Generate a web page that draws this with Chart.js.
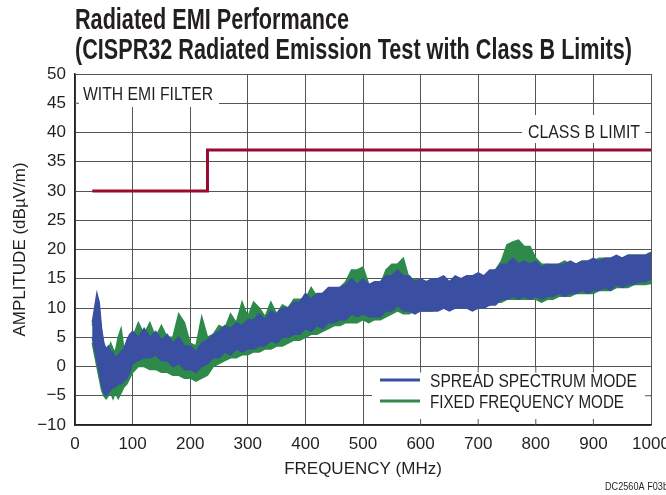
<!DOCTYPE html>
<html>
<head>
<meta charset="utf-8">
<script src="https://cdn.jsdelivr.net/npm/chart.js@4.4.1/dist/chart.umd.min.js"></script>
<style>
  html, body { margin: 0; padding: 0; background: #fff; }
</style>
</head>
<body>
<canvas id="emi" width="666" height="495"></canvas>
<script>
const FONT = "'Liberation Sans', Arial, sans-serif";
const INK = "#231f20";
const BLUE = "#3a4fa2";
const GREEN = "#2e8a4a";

// frequency points (MHz)
const freqs = [
  30, 34, 38, 42, 46, 50, 54, 58, 62, 66, 70, 75, 80, 85, 90, 95, 100,
  110, 120, 130, 140, 150, 160, 170, 180, 190, 200,
  210, 220, 230, 240, 250, 260, 270, 280, 290, 300,
  310, 320, 330, 340, 350, 360, 370, 380, 390, 400,
  410, 420, 430, 440, 450, 460, 470, 480, 490, 500,
  510, 520, 530, 540, 550, 560, 570, 580, 590, 600,
  610, 620, 630, 640, 650, 660, 670, 680, 690, 700,
  710, 720, 730, 740, 750, 760, 770, 780, 790, 800,
  810, 820, 830, 840, 850, 860, 870, 880, 890, 900,
  910, 920, 930, 940, 950, 960, 970, 980, 990, 1000
];

// spread spectrum mode, upper / lower edge of the trace (dBuV/m)
const spreadHi = [
  7.5, 10, 12.5, 11, 6.5, 4, 3, 3.5, 2.5, 2.5, 1.5, 2, 2.5, 3, 4.5, 5.5, 6,
  5, 6.5, 5, 6, 4.5, 5.5, 4, 5, 3.5, 3.5,
  2.5, 4, 4.5, 5.5, 6, 7, 6.5, 7.5, 7, 8,
  8, 9, 8, 9.5, 9, 10, 10, 11, 11, 12.5,
  11.5, 12.5, 12.5, 13.5, 13.5, 13.5, 14, 15, 14, 15,
  14, 14.5, 14.5, 15.5, 15.5, 16.5, 15.5, 15.5, 14.5, 15,
  14.5, 15, 15, 15.5, 14.5, 15.5, 15, 15.5, 15.5, 16,
  15.5, 16.5, 16.5, 17.5, 17.5, 18.5, 17.5, 18, 17.5, 18,
  17, 17.5, 17.5, 17.5, 17.5, 18, 17.5, 18, 18, 18.5,
  18, 18.5, 18.5, 19, 18.5, 19, 19, 19, 19, 19.5
];
const spreadLo = [
  5, 3, 1, -1, -3, -4.5, -5, -4.5, -4, -3.5, -3.5, -3, -3, -2.5, -2, -1, 0.5,
  1, 1.5, 1.5, 2, 1, 1, 0, 0.5, -0.5, -0.5,
  -1, 0, 0.5, 1.5, 1.5, 2.5, 2, 3, 2.5, 3,
  3, 3.5, 3.5, 4.5, 4, 5, 5, 5.5, 5.5, 6.5,
  6, 7, 6.5, 7.5, 7.5, 8, 8, 9, 8.5, 9,
  8.5, 8.5, 8.5, 9.5, 9.5, 10.5, 9.5, 9.5, 9, 9.5,
  9.5, 9.5, 9.5, 10, 9.5, 10, 10, 10, 9.5, 10,
  10, 10.5, 10.5, 11.5, 11.5, 12, 11.5, 12, 11.5, 12,
  11.5, 12, 12, 12.5, 12, 12.5, 12.5, 13, 12.5, 13,
  13, 13.5, 13, 14, 13.5, 14, 14, 14.5, 14.5, 15
];

// fixed frequency mode, upper / lower edge of the trace (dBuV/m)
const fixedHi = [
  7, 9, 11, 10, 6, 3, 2, 3, 4, 3, 2.5, 5, 6.5, 3, 4, 5, 5,
  7.5, 5.5, 7.5, 5, 7, 5, 5, 9, 7.5, 4,
  3.5, 8.5, 5, 5.5, 7, 6.5, 9, 7.5, 11, 8.5,
  11, 10, 8.5, 11, 9, 10.5, 10, 11.5, 11.5, 11.5,
  13.5, 12, 12.5, 12.5, 13, 13.5, 14.5, 16.5, 16.5, 17,
  14, 13.5, 14, 16.5, 17.5, 17.5, 18.5, 15, 15, 14.5,
  14.5, 14, 14.5, 14.5, 14.5, 15, 15, 15, 15.5, 15.5,
  15.5, 16, 16.5, 18, 20.8, 21.3, 21.6, 20.5, 20.5, 18.5,
  17.5, 17.5, 17, 17.5, 18, 17.5, 17.5, 18, 18, 18,
  18.5, 18.5, 18.5, 18.5, 18.5, 19, 19, 19, 19, 19.5
];
const fixedLo = [
  4, 2, 0, -2, -4, -5, -5.5, -5, -4.5, -5.5, -4.5, -5.5, -4.5, -3.5, -3, -2, -1,
  0, 0, -0.5, -0.5, -1, -1, -1.5, -1.5, -2, -2,
  -2.5, -2, -1.5, 0, 0.5, 1, 1.5, 1.5, 2, 2,
  2.5, 2.5, 3, 3, 3.5, 3.5, 4, 4.5, 4.5, 5,
  5.5, 5.5, 6, 6.5, 7, 7, 7.5, 7.5, 7.5, 8,
  7.5, 8, 8, 8.5, 9, 9.5, 9, 9, 9.5, 9.5,
  9.5, 9.5, 10, 10, 10, 10, 10, 10.5, 10.5, 10.5,
  10.5, 10.5, 11, 11, 11.5, 11.5, 11.5, 11.5, 11.5, 11.5,
  11, 11.5, 11.5, 12, 12, 12, 12.5, 12.5, 12.5, 12.5,
  13, 13, 13, 13.5, 13.5, 13.5, 14, 14, 14, 14.2
];

// CISPR32 class B limit
const limitFreqs = [30, 230, 230, 1000];
const limitLevels = [30, 30, 37, 37];

const xRange = [0, 1000, 100];
const yRange = [-10, 50, 5];

const pts = vals => freqs.map((f, i) => ({ x: f, y: vals[i] }));

function line(ctx, x1, y1, x2, y2) {
  ctx.beginPath();
  ctx.moveTo(x1, y1);
  ctx.lineTo(x2, y2);
  ctx.stroke();
}

// condensed look: squeeze text to the width it has in the original
function fitText(ctx, text, x, y, width) {
  const w = ctx.measureText(text).width;
  ctx.save();
  ctx.translate(x, y);
  ctx.scale(width / w, 1);
  ctx.fillText(text, 0, 0);
  ctx.restore();
}

const decor = {
  id: "decor",
  beforeDatasetsDraw(chart) {
    const { ctx, chartArea: ca, scales: { x, y } } = chart;
    ctx.save();
    ctx.fillStyle = "#fff";
    ctx.fillRect(ca.left + 1, ca.top + 1, 143, 32);
    ctx.fillRect(522, 115, 123, 28);
    const y0 = y.getPixelForValue(0);
    ctx.fillRect(372, y0 + 1, ca.right - 1 - 372, ca.bottom - 1 - (y0 + 1));
    ctx.strokeStyle = "#555";
    ctx.lineWidth = 1;
    const y45 = y.getPixelForValue(45);
    line(ctx, ca.left, y45, ca.left + 4, y45);
    [600, 700, 800, 900].forEach(f => {
      const px = x.getPixelForValue(f);
      line(ctx, px, ca.bottom, px, ca.bottom - 6);
      line(ctx, px, y0, px, y0 + 6);
    });
    const ym5 = y.getPixelForValue(-5);
    line(ctx, ca.right, ym5, ca.right - 6, ym5);
    ctx.restore();
  },
  afterDraw(chart) {
    const { ctx } = chart;
    ctx.save();
    ctx.fillStyle = INK;
    ctx.textBaseline = "alphabetic";
    ctx.textAlign = "left";
    ctx.font = "bold 29px " + FONT;
    fitText(ctx, "Radiated EMI Performance", 75, 29, 274);
    fitText(ctx, "(CISPR32 Radiated Emission Test with Class B Limits)", 75, 59, 557);

    ctx.font = "18.5px " + FONT;
    fitText(ctx, "WITH EMI FILTER", 83, 100, 130);
    fitText(ctx, "CLASS B LIMIT", 528, 138, 112);

    ctx.lineWidth = 3;
    ctx.strokeStyle = BLUE;
    line(ctx, 380, 380, 420, 380);
    ctx.strokeStyle = GREEN;
    line(ctx, 380, 401, 420, 401);
    fitText(ctx, "SPREAD SPECTRUM MODE", 430, 387, 207);
    fitText(ctx, "FIXED FREQUENCY MODE", 430, 408, 194);

    ctx.font = "11px " + FONT;
    fitText(ctx, "DC2560A F03b", 605, 490, 63);
    ctx.restore();
  }
};

const edge = (label, data, color, fill) => ({
  label,
  data,
  borderColor: color,
  backgroundColor: color,
  borderWidth: 1.5,
  pointRadius: 0,
  tension: 0,
  fill
});

new Chart(document.getElementById("emi"), {
  type: "line",
  data: {
    datasets: [
      {
        label: "CLASS B LIMIT",
        data: limitFreqs.map((f, i) => ({ x: f, y: limitLevels[i] })),
        borderColor: "#990a2e",
        borderWidth: 3,
        pointRadius: 0,
        tension: 0,
        fill: false
      },
      edge("SPREAD SPECTRUM MODE", pts(spreadHi), BLUE, "+1"),
      edge("SPREAD SPECTRUM MODE low", pts(spreadLo), BLUE, false),
      edge("FIXED FREQUENCY MODE", pts(fixedHi), GREEN, "+1"),
      edge("FIXED FREQUENCY MODE low", pts(fixedLo), GREEN, false)
    ]
  },
  options: {
    responsive: false,
    animation: false,
    layout: { padding: { left: 0, right: 15, top: 74, bottom: 0 } },
    plugins: {
      legend: { display: false },
      tooltip: { enabled: false }
    },
    scales: {
      x: {
        type: "linear",
        min: xRange[0],
        max: xRange[1],
        ticks: {
          stepSize: xRange[2],
          padding: 9,
          color: INK,
          maxRotation: 0,
          autoSkip: false,
          font: { family: FONT, size: 17 },
          callback: v => String(v)
        },
        grid: { color: "#555", lineWidth: 1, drawTicks: false },
        border: { color: "#222", width: 1.5 },
        title: {
          display: true,
          text: "FREQUENCY (MHz)",
          color: INK,
          font: { family: FONT, size: 17 },
          padding: { top: 0, bottom: 15 }
        },
        afterFit(s) {
          s.height = 70;
          s.paddingLeft = 0;
          s.paddingRight = 0;
        }
      },
      y: {
        min: yRange[0],
        max: yRange[1],
        ticks: {
          stepSize: yRange[2],
          padding: 9,
          color: INK,
          font: { family: FONT, size: 17 },
          callback: v => String(v).replace("-", "\u2212")
        },
        grid: { color: "#555", lineWidth: 1, drawTicks: false },
        border: { color: "#222", width: 1.5 },
        title: {
          display: true,
          text: "AMPLITUDE (dBµV/m)",
          color: INK,
          font: { family: FONT, size: 17 },
          padding: { top: 10, bottom: 0 }
        },
        afterFit(s) {
          s.width = 75;
        }
      }
    }
  },
  plugins: [decor]
});
</script>
</body>
</html>
